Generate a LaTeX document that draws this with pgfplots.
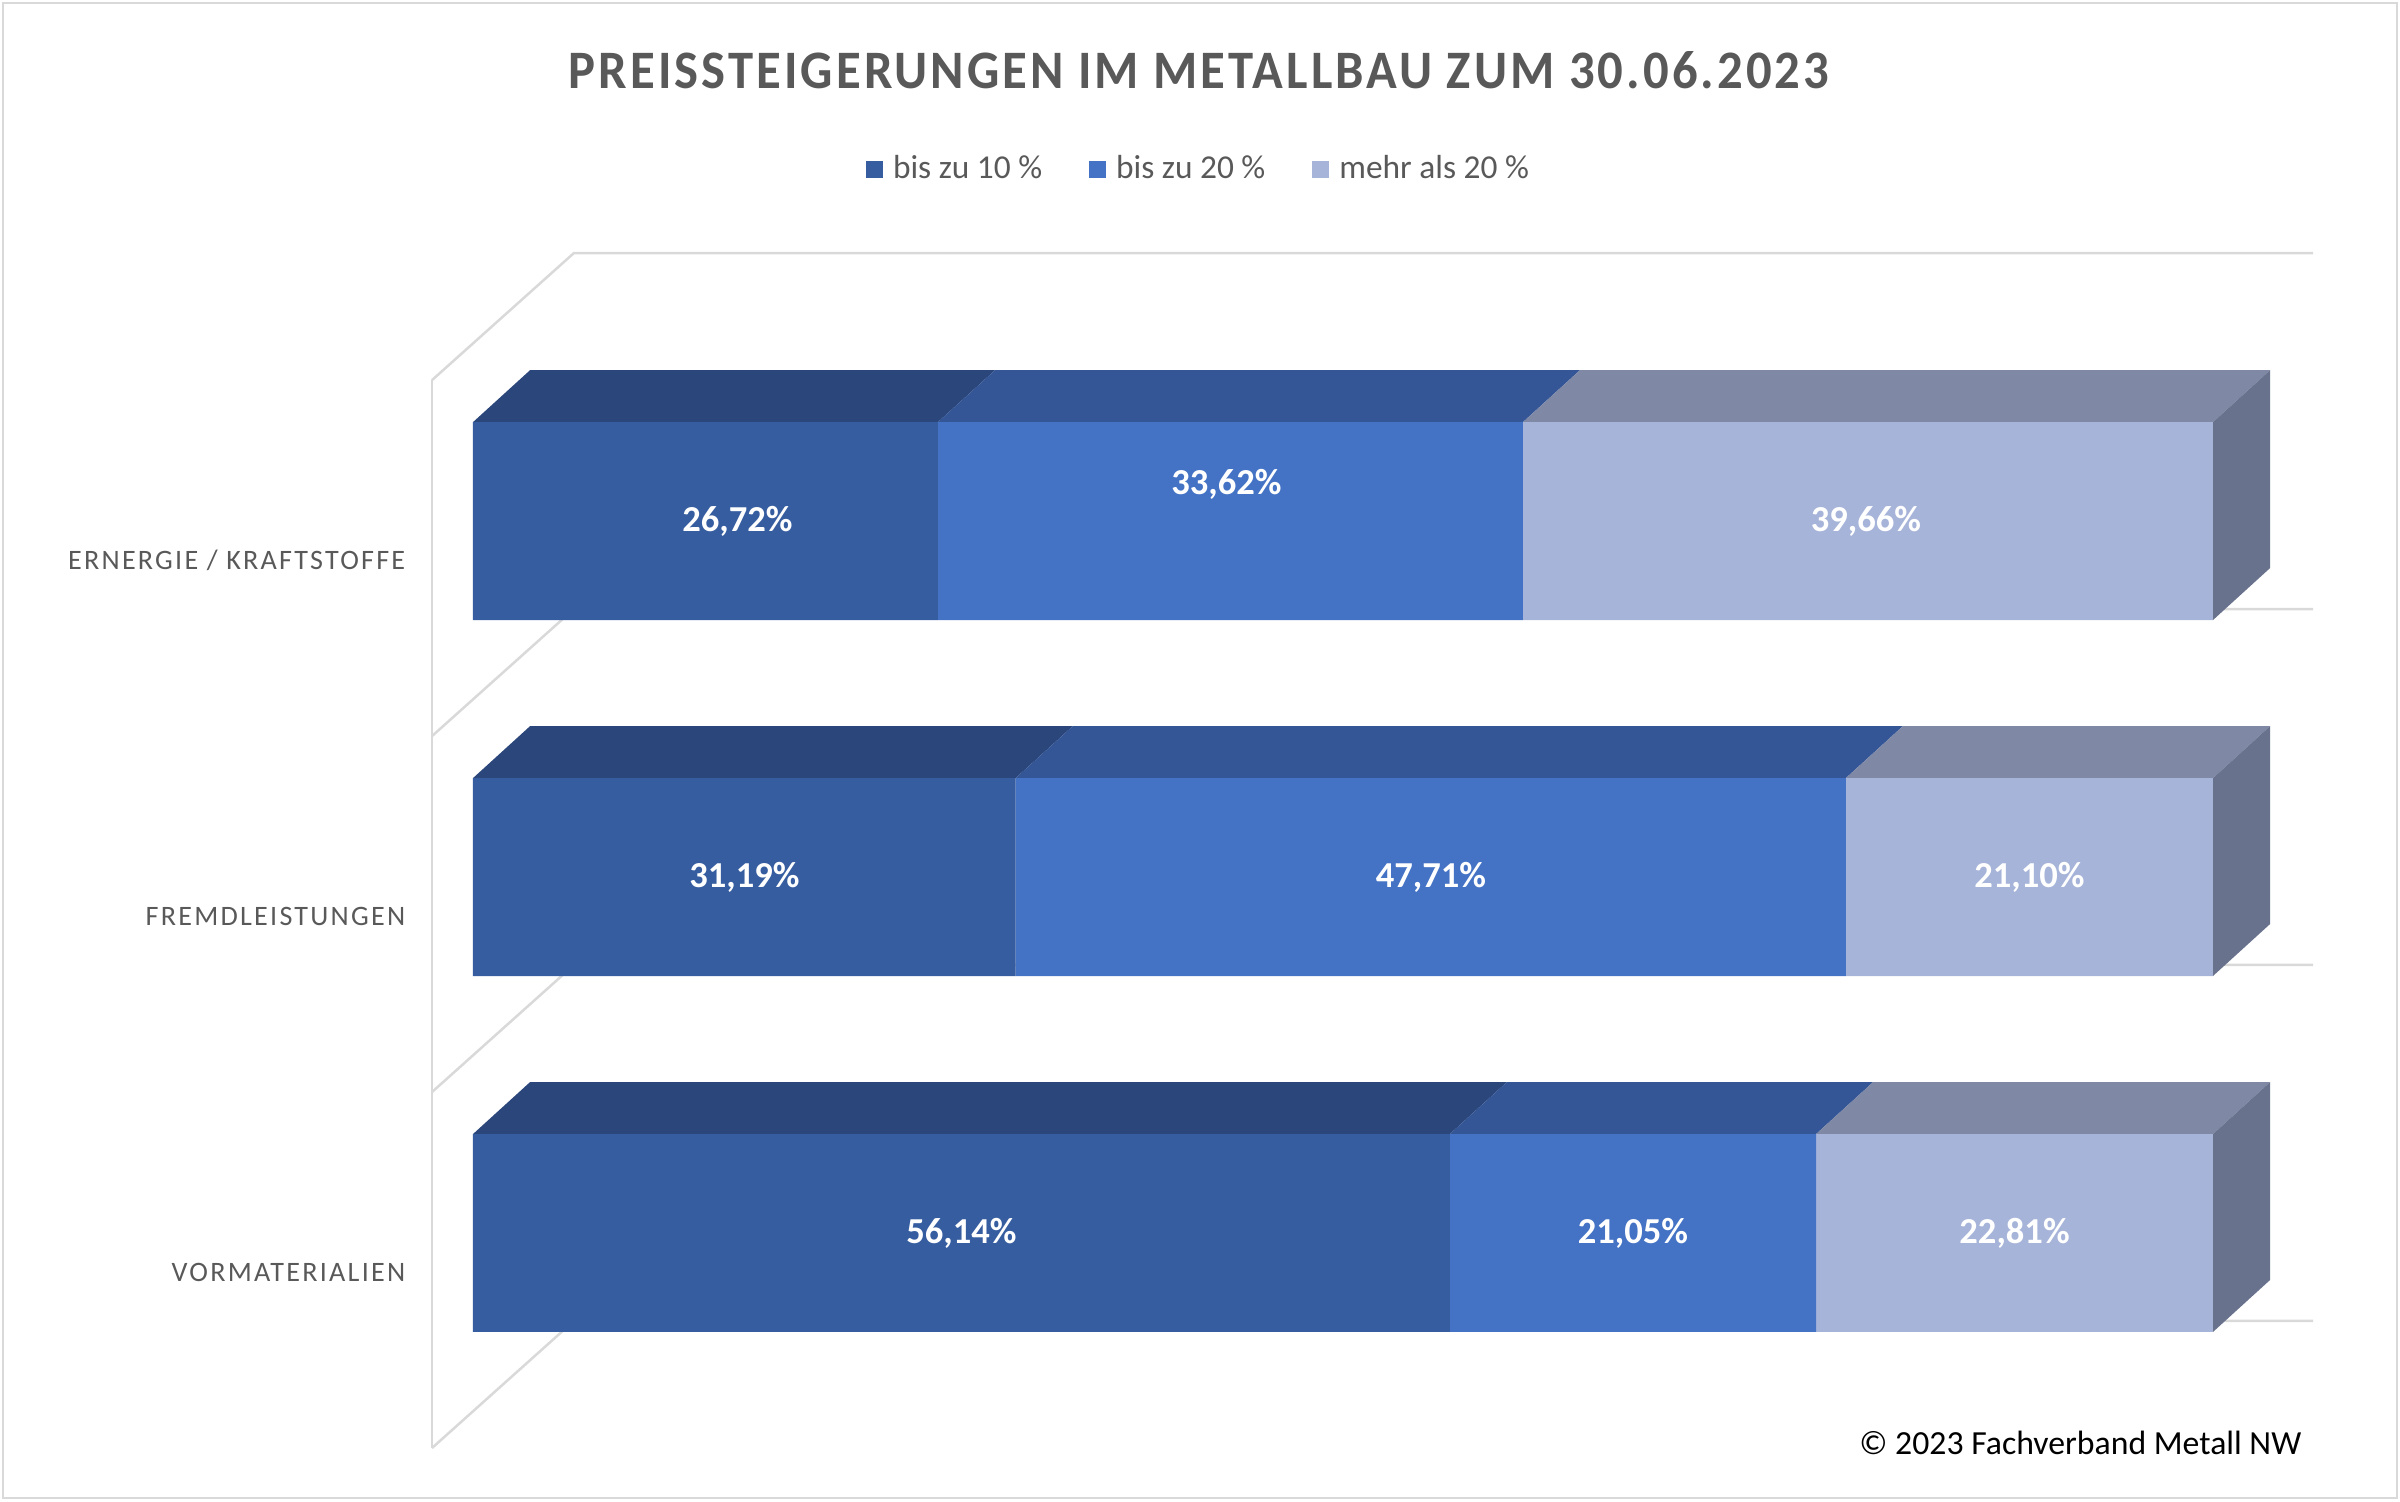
\documentclass[border=0pt]{standalone}
\usepackage{pgfplots}
\pgfplotsset{compat=1.18}
\usepackage{pgfplotstable}
\usepackage{fontspec}
\setmainfont{Carlito}
\newfontfamily\catfont[LetterSpace=8]{Carlito}
\newfontfamily\titlefont[LetterSpace=6]{Carlito}

\definecolor{fA}{RGB}{54,93,160}
\definecolor{tA}{RGB}{42,70,123}
\definecolor{fB}{RGB}{68,114,196}
\definecolor{tB}{RGB}{52,86,151}
\definecolor{fC}{RGB}{167,180,217}
\definecolor{tC}{RGB}{127,137,166}
\definecolor{sideC}{RGB}{104,114,141}
\definecolor{txtgray}{RGB}{89,89,89}
\definecolor{gridgray}{RGB}{217,217,217}

\pgfplotstableread{
y a b c
0 56.14 21.05 22.81
1 31.19 47.71 21.10
2 26.72 33.62 39.66
}\datatable

\pgfplotsset{
  base/.style={
    scale only axis, width=188.1mm, height=119.6mm,
    at={(43.2mm,5.3mm)}, anchor=south west,
    xmin=-2.356, xmax=105.75, ymin=-0.604, ymax=2.756,
    axis line style={draw=none}, major tick length=0pt,
    xtick=\empty, clip=false,
  },
}
\tikzset{vlab/.style={text=white, font=\bfseries\fontsize{10.4}{12}\selectfont}}

\begin{document}
\begin{tikzpicture}
\useasboundingbox (0,0) rectangle (240mm,150.1mm);
\draw[gridgray, line width=0.25mm] (0.3mm,0.3mm) rectangle (239.7mm,149.8mm);

% title
\node[txtgray] at (119.9mm,143.1mm) {\resizebox{126mm}{3.7mm}{\titlefont\bfseries PREISSTEIGERUNGEN IM METALLBAU ZUM 30.06.2023}};
% copyright
\node[anchor=east, inner sep=0pt, font=\fontsize{9.6}{12}\selectfont] at (230.2mm,5.8mm) {© 2023 Fachverband Metall NW};

% axis 1: walls, gridlines and 3D faces
\begin{axis}[base, ytick=\empty]
  \draw[gridgray, line width=0.25mm] (axis cs:-2.356,-0.604) -- (axis cs:-2.356,2.396);
  \draw[gridgray, line width=0.25mm] (axis cs:-2.356,-0.604) -- (axis cs:5.80,-0.247) -- (axis cs:105.75,-0.247);
  \draw[gridgray, line width=0.25mm] (axis cs:-2.356,0.396) -- (axis cs:5.80,0.753) -- (axis cs:105.75,0.753);
  \draw[gridgray, line width=0.25mm] (axis cs:-2.356,1.396) -- (axis cs:5.80,1.753) -- (axis cs:105.75,1.753);
  \draw[gridgray, line width=0.25mm] (axis cs:-2.356,2.396) -- (axis cs:5.80,2.753) -- (axis cs:105.75,2.753);
  % top faces: Vormaterialien (y=0)
  \addplot[fill=tA, draw=none] coordinates {(0,0.278) (56.14,0.278) (59.42,0.424) (3.28,0.424) (0,0.278)};
  \addplot[fill=tB, draw=none] coordinates {(56.14,0.278) (77.19,0.278) (80.47,0.424) (59.42,0.424) (56.14,0.278)};
  \addplot[fill=tC, draw=none] coordinates {(77.19,0.278) (100,0.278) (103.28,0.424) (80.47,0.424) (77.19,0.278)};
  % Fremdleistungen (y=1)
  \addplot[fill=tA, draw=none] coordinates {(0,1.278) (31.19,1.278) (34.47,1.424) (3.28,1.424) (0,1.278)};
  \addplot[fill=tB, draw=none] coordinates {(31.19,1.278) (78.90,1.278) (82.18,1.424) (34.47,1.424) (31.19,1.278)};
  \addplot[fill=tC, draw=none] coordinates {(78.90,1.278) (100,1.278) (103.28,1.424) (82.18,1.424) (78.90,1.278)};
  % Ernergie (y=2)
  \addplot[fill=tA, draw=none] coordinates {(0,2.278) (26.72,2.278) (30.00,2.424) (3.28,2.424) (0,2.278)};
  \addplot[fill=tB, draw=none] coordinates {(26.72,2.278) (60.34,2.278) (63.62,2.424) (30.00,2.424) (26.72,2.278)};
  \addplot[fill=tC, draw=none] coordinates {(60.34,2.278) (100,2.278) (103.28,2.424) (63.62,2.424) (60.34,2.278)};
  % side faces
  \addplot[fill=sideC, draw=none] coordinates {(100,-0.278) (103.28,-0.132) (103.28,0.424) (100,0.278) (100,-0.278)};
  \addplot[fill=sideC, draw=none] coordinates {(100,0.722) (103.28,0.868) (103.28,1.424) (100,1.278) (100,0.722)};
  \addplot[fill=sideC, draw=none] coordinates {(100,1.722) (103.28,1.868) (103.28,2.424) (100,2.278) (100,1.722)};
\end{axis}

% axis 2: front faces
\begin{axis}[base, xbar stacked, bar width=0.556,
  ytick={0,1,2},
  yticklabels={VORMATERIALIEN, FREMDLEISTUNGEN, ERNERGIE / KRAFTSTOFFE},
  yticklabel style={anchor=east, inner sep=0pt, xshift=-2.6mm, yshift=-3.9mm, text=txtgray, font=\catfont\fontsize{8}{10}\selectfont},
  legend columns=3,
  legend style={at={(0.408,1.069)}, anchor=center, draw=none, fill=none,
    font=\fontsize{9.5}{11}\selectfont, text=txtgray,
    /tikz/every even column/.append style={column sep=4.2mm},
    nodes={inner sep=0.45mm}},
  legend image code/.code={\fill[#1] (0mm,-0.85mm) rectangle (1.7mm,0.85mm); \path (2.3mm,0mm);},
]
  \addplot[fill=fA, draw=none] table[x=a, y=y] {\datatable};
  \addplot[fill=fB, draw=none] table[x=b, y=y] {\datatable};
  \addplot[fill=fC, draw=none] table[x=c, y=y] {\datatable};
  \legend{bis zu 10 \%, bis zu 20 \%, mehr als 20 \%}
\end{axis}

% axis 3: value labels
\begin{axis}[base, ytick=\empty]
  \node[vlab] at (axis cs:15.2,2.0) {26,72\%};
  \node[vlab] at (axis cs:43.3,2.104) {33,62\%};
  \node[vlab] at (axis cs:80.05,2.0) {39,66\%};
  \node[vlab] at (axis cs:15.6,1.0) {31,19\%};
  \node[vlab] at (axis cs:55.05,1.0) {47,71\%};
  \node[vlab] at (axis cs:89.45,1.0) {21,10\%};
  \node[vlab] at (axis cs:28.07,0.0) {56,14\%};
  \node[vlab] at (axis cs:66.665,0.0) {21,05\%};
  \node[vlab] at (axis cs:88.595,0.0) {22,81\%};
\end{axis}
\end{tikzpicture}
\end{document}
